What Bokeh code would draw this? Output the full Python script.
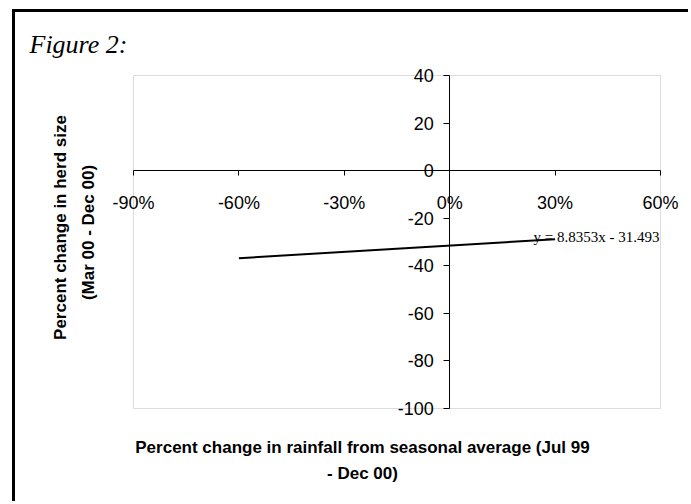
import math
from bokeh.plotting import figure
from bokeh.models import Range1d, FixedTicker, NumeralTickFormatter, Label, BoxAnnotation
from bokeh.embed import file_html
from bokeh.resources import INLINE

# ---- data ----
x_ticks = [-0.9, -0.6, -0.3, 0.0, 0.3, 0.6]
y_ticks = [-100, -80, -60, -40, -20, 0, 20, 40]
trend_x = [-0.6, 0.3]
trend_y = [-36.79, -28.84]
trend_label = "y = 8.8353x - 31.493"
fig_title = "Figure 2:"
x_title = ["Percent change in rainfall from seasonal average (Jul 99", "- Dec 00)"]
y_title = ["Percent change in herd size", "(Mar 00 - Dec 00)"]

# ---- layout ----
X0, X1 = -0.9, 0.6        # plot area x extent (data)
Y0, Y1 = -100, 40         # plot area y extent (data)
CX, CY = 15, 12           # page offset of canvas
W, H = 676, 492           # canvas size
FL, FR, FT, FB = 133, 660, 75, 408   # plot-area edges on page

sx = (X1 - X0) / (FR - FL)   # data per pixel
sy = (Y1 - Y0) / (FB - FT)

def dx(px):
    return X0 + (px - FL) * sx

def dy(py):
    return Y1 - (py - FT) * sy

xr = Range1d(dx(CX), dx(CX + W))
yr = Range1d(dy(CY + H), dy(CY))

p = figure(width=W, height=H, x_range=xr, y_range=yr,
           output_backend="svg", toolbar_location=None,
           min_border_left=0, min_border_right=0,
           min_border_top=0, min_border_bottom=0)
p.styles = {"margin-left": "12px", "margin-top": "9px",
            "border-left": "3px solid black", "border-top": "3px solid black"}
p.background_fill_color = "white"
p.border_fill_color = "white"
p.grid.visible = False
p.outline_line_color = None

# plot-area border
p.add_layout(BoxAnnotation(left=X0, right=X1, bottom=Y0, top=Y1,
                           fill_alpha=0, line_color="#8a8a8a", line_width=1,
                           level="underlay"))

p.xaxis.fixed_location = 0
p.yaxis.fixed_location = 0
p.xaxis.bounds = (X0, X1)
p.yaxis.bounds = (Y0, Y1)
p.xaxis.ticker = FixedTicker(ticks=x_ticks)
p.yaxis.ticker = FixedTicker(ticks=y_ticks)
p.xaxis.formatter = NumeralTickFormatter(format="0%")
p.yaxis.formatter = NumeralTickFormatter(format="0")
for ax in (p.xaxis, p.yaxis):
    ax.axis_line_color = "black"
    ax.axis_line_width = 1
    ax.major_tick_line_color = "black"
    ax.major_tick_in = 0
    ax.major_tick_out = 5
    ax.minor_tick_in = 0
    ax.minor_tick_out = 0
    ax.major_label_text_font = "Liberation Sans"
    ax.major_label_text_font_size = "18px"
    ax.major_label_text_color = "black"
p.xaxis.major_label_standoff = 17
p.yaxis.major_tick_out = 6
p.yaxis.major_label_standoff = 10

# trend line
p.line(trend_x, trend_y, line_color="black", line_width=2)

p.add_layout(Label(x=dx(533), y=dy(236), text=trend_label,
                   text_font="Liberation Serif", text_font_size="15px",
                   text_align="left", text_baseline="alphabetic", text_color="black"))

# figure title
p.add_layout(Label(x=dx(29), y=dy(44), text=fig_title,
                   text_font="Liberation Serif", text_font_style="italic",
                   text_font_size="26px", text_align="left",
                   text_baseline="alphabetic", text_color="black"))

# x title (two lines)
for txt, py in zip(x_title, [447, 473]):
    p.add_layout(Label(x=dx(362), y=dy(py), text=txt,
                       text_font="Liberation Sans", text_font_style="bold",
                       text_font_size="17px", text_align="center",
                       text_baseline="middle", text_color="black"))

# y title (two lines, rotated)
for txt, px, py in zip(y_title, [60, 88], [227, 232]):
    p.add_layout(Label(x=dx(px), y=dy(py), text=txt, angle=math.pi / 2,
                       text_font="Liberation Sans", text_font_style="bold",
                       text_font_size="17px", text_align="center",
                       text_baseline="middle", text_color="black"))

open("out.html", "w").write(file_html(p, INLINE))
